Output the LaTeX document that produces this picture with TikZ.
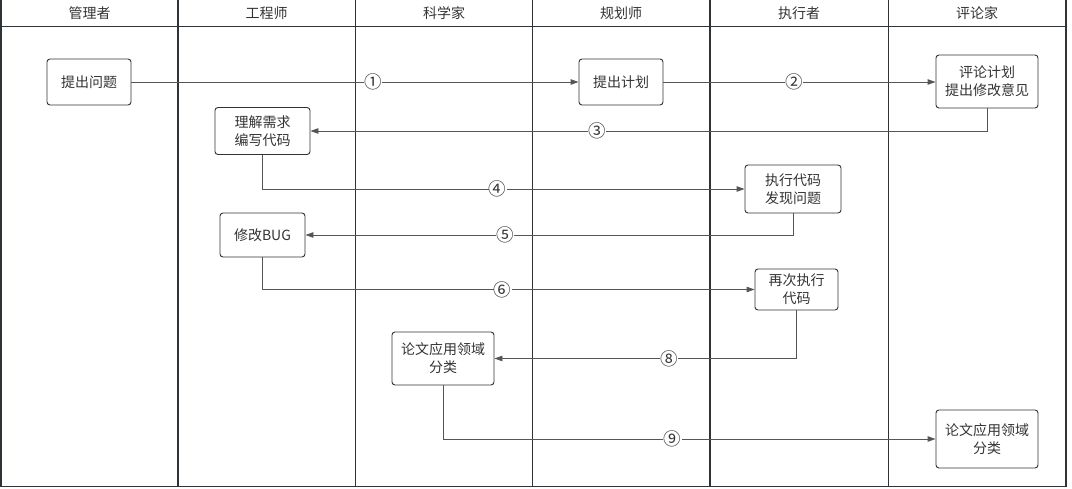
\documentclass[tikz,border=0pt]{standalone}
\usepackage{fontspec}
\setmainfont{Noto Sans CJK SC}
\usetikzlibrary{arrows.meta}
\definecolor{ink}{HTML}{333333}
\definecolor{lanec}{HTML}{2E3338}
\definecolor{wire}{HTML}{555555}
\begin{document}
\begin{tikzpicture}[x=1pt,y=-1pt,
  box/.style={draw=ink, rounded corners=3pt, line width=0.9pt, align=center,
    font=\fontsize{14}{18}\selectfont, text=ink, inner sep=0pt},
  lane/.style={draw=lanec, line width=1.8pt},
  conn/.style={draw=wire, line width=0.9pt, -{Triangle[length=8pt,width=5.5pt]}},
  num/.style={fill=white, inner sep=0.3pt, font=\fontsize{17.5}{17.5}\selectfont, text=ink},
  hdr/.style={font=\fontsize{14}{14}\selectfont, text=ink}]
\useasboundingbox (0,0) rectangle (1072,489);
% lanes
\draw[lane] (0.9,0) -- (0.9,486.5) -- (1066,486.5) -- (1066,0);
\draw[lane, line width=1.5pt] (0.9,26.5) -- (1066,26.5);
\foreach \x in {178,355.5,532.5,710,888.5} \draw[lane] (\x,0) -- (\x,486.5);
% headers
\node[hdr] (h1) at (89.5,13) {管理者};
\node[hdr] (h2) at (266.5,13) {工程师};
\node[hdr] (h3) at (444,13) {科学家};
\node[hdr] (h4) at (621,13) {规划师};
\node[hdr] (h5) at (799,13) {执行者};
\node[hdr] (h6) at (977,13) {评论家};
% boxes
\node[box, minimum width=84pt, minimum height=46pt] (q) at (89,82) {提出问题};
\node[box, minimum width=84pt, minimum height=46pt] (plan) at (621,82) {提出计划};
\node[box, minimum width=102pt, minimum height=53pt] (crit) at (987,81.5) {评论计划\\提出修改意见};
\node[box, minimum width=95pt, minimum height=47pt] (code) at (262.5,131) {理解需求\\编写代码};
\node[box, minimum width=85pt, minimum height=44pt] (bug) at (262.5,235) {修改BUG};
\node[box, minimum width=96pt, minimum height=48pt] (exec) at (793,189) {执行代码\\发现问题};
\node[box, minimum width=83pt, minimum height=41pt] (rerun) at (796.5,289.5) {再次执行\\代码};
\node[box, minimum width=102pt, minimum height=53pt] (sci) at (443,358.5) {论文应用领域\\分类};
\node[box, minimum width=102pt, minimum height=58pt] (crit2) at (987,439) {论文应用领域\\分类};
% connectors
\draw[conn] (q.east) -- node[num, pos=0.54] {①} (plan.west);
\draw[conn] (plan.east) -- node[num, pos=0.48] {②} (plan.east -| crit.west);
\draw[conn] (crit.south) |- node[num, pos=0.788] {③} (code.east);
\draw[conn] (code.south) |- node[num, pos=0.744] {④} (exec.west);
\draw[conn] (exec.south) |- node[num, pos=0.795] {⑤} (bug.east);
\draw[conn] (bug.south) |- node[num, pos=0.744] {⑥} (rerun.west);
\draw[conn] (rerun.south) |- node[num, pos=0.711] {⑧} (sci.east);
\draw[conn] (sci.south) |- node[num, pos=0.733] {⑨} (crit2.west);
\end{tikzpicture}
\end{document}
